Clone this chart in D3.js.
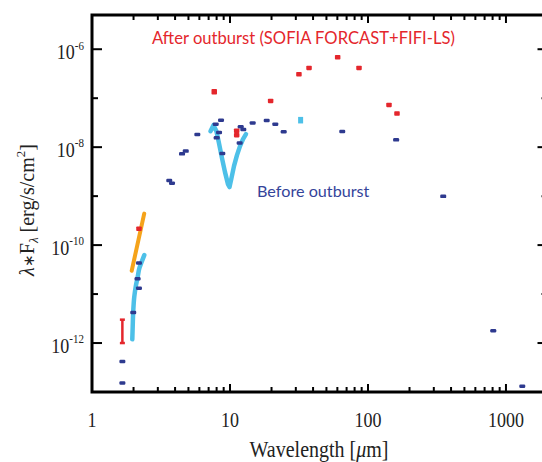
<!DOCTYPE html>
<html>
<head>
<meta charset="utf-8">
<script src="https://cdn.jsdelivr.net/npm/d3@7"></script>
<style>
  html, body { margin: 0; padding: 0; background: #fff; }
  svg { display: block; }
</style>
</head>
<body>
<svg id="chart" width="542" height="462"></svg>
<script>
// ---------- data (wavelength in micron, lambda*F_lambda in erg/s/cm^2) ----------
const blueX = [1.66, 1.66, 1.99, 2.14, 2.19, 2.19, 3.63, 3.80, 4.49, 4.78, 5.80, 7.88, 8.61, 8.33, 8.01, 8.80,
               11.96, 12.49, 11.75, 14.6, 18.45, 21.3, 24.5, 65.1, 160, 351, 809, 1313];
const blueY = [1.53e-13, 4.2e-13, 4.2e-12, 2.05e-11, 1.32e-11, 4.3e-11, 2.09e-9, 1.84e-9, 7.3e-9, 8.3e-9,
               1.82e-8, 2.95e-8, 3.56e-8, 2.0e-8, 1.55e-8, 7.4e-9, 2.6e-8, 2.3e-8, 1.22e-8, 3.13e-8,
               3.5e-8, 2.95e-8, 2.06e-8, 2.09e-8, 1.41e-8, 9.9e-10, 1.78e-12, 1.31e-13];

const redX = [2.19, 7.69, 11.18, 11.18, 19.7, 31.6, 37.4, 60.3, 86.1, 142, 162.3];
const redY = [2.15e-10, 1.39e-7, 2.17e-8, 1.76e-8, 8.8e-8, 3.09e-7, 4.16e-7, 6.87e-7, 4.16e-7, 7.3e-8, 4.87e-8];

const redErrX = [1.66];
const redErrLo = [1.0e-12];
const redErrHi = [3.0e-12];

const orangeX = [1.94, 2.39];
const orangeY = [3.0e-11, 4.4e-10];

const cyanNirX = [1.959, 1.972, 1.992, 2.025, 2.073, 2.144, 2.202, 2.292, 2.393];
const cyanNirY = [1.19e-12, 2.15e-12, 4.7e-12, 8.8e-12, 1.41e-11, 2.25e-11, 3.34e-11, 4.56e-11, 6.25e-11];

const cyanMirX = [7.22, 7.59, 7.98, 8.32, 8.75, 9.20, 9.67, 9.92, 10.25, 10.69, 11.24, 11.82, 12.43, 13.06];
const cyanMirY = [2.12e-8, 2.81e-8, 2.12e-8, 1.21e-8, 5.97e-9, 3.09e-9, 1.76e-9, 1.53e-9, 2.33e-9, 4.1e-9,
                  6.87e-9, 1.05e-8, 1.46e-8, 1.84e-8];

const cyanBoxX = [32.5];
const cyanBoxLo = [3.05e-8];
const cyanBoxHi = [4.15e-8];

const xTickLabels = ["1", "10", "100", "1000"];
const xTickValues = [1, 10, 100, 1000];
const yTickExps = [-6, -8, -10, -12];

const annotAfter = "After outburst (SOFIA FORCAST+FIFI-LS)";
const annotBefore = "Before outburst";

// ---------- layout ----------
const L = 92, R = 547.5, T = 15, B = 392;
const svg = d3.select("#chart");

const x = d3.scaleLog().domain([1, 2000]).range([L, R]);
const y = d3.scaleLog().domain([1e-13, 5e-6]).range([B, T]);

const RED = "#E4262C", BLUE = "#2E3A8F", CYAN = "#4DC0E8", ORANGE = "#F5A31A";
const SERIF = "'Liberation Serif','Times New Roman',serif";
const SANS = "Lato, 'Open Sans', sans-serif";

// ---------- marks ----------
const line = d3.line().x(d => x(d[0])).y(d => y(d[1]));

svg.append("path")
  .datum(orangeX.map((v, i) => [v, orangeY[i]]))
  .attr("d", line).attr("fill", "none").attr("stroke", ORANGE)
  .attr("stroke-width", 4).attr("stroke-linecap", "round");

svg.append("path")
  .datum(cyanNirX.map((v, i) => [v, cyanNirY[i]]))
  .attr("d", d3.line().x(d => x(d[0])).y(d => y(d[1])).curve(d3.curveMonotoneY))
  .attr("fill", "none").attr("stroke", CYAN)
  .attr("stroke-width", 4.5).attr("stroke-linecap", "round");

svg.append("path")
  .datum(cyanMirX.map((v, i) => [v, cyanMirY[i]]))
  .attr("d", line)
  .attr("fill", "none").attr("stroke", CYAN)
  .attr("stroke-width", 4.5).attr("stroke-linecap", "round").attr("stroke-linejoin", "round");

svg.selectAll("rect.cbox").data(cyanBoxX).enter().append("rect")
  .attr("class", "cbox")
  .attr("x", d => x(d) - 2.5).attr("width", 5)
  .attr("y", (d, i) => y(cyanBoxHi[i])).attr("height", (d, i) => y(cyanBoxLo[i]) - y(cyanBoxHi[i]))
  .attr("fill", CYAN);

// red error bar
const eg = svg.selectAll("g.err").data(redErrX).enter().append("g").attr("class", "err")
  .attr("stroke", RED).attr("stroke-width", 2.5);
eg.append("line").attr("x1", d => x(d)).attr("x2", d => x(d))
  .attr("y1", (d, i) => y(redErrLo[i])).attr("y2", (d, i) => y(redErrHi[i]));
eg.append("line").attr("x1", d => x(d) - 2.5).attr("x2", d => x(d) + 2.5)
  .attr("y1", (d, i) => y(redErrLo[i])).attr("y2", (d, i) => y(redErrLo[i]));
eg.append("line").attr("x1", d => x(d) - 2.5).attr("x2", d => x(d) + 2.5)
  .attr("y1", (d, i) => y(redErrHi[i])).attr("y2", (d, i) => y(redErrHi[i]));

svg.selectAll("rect.blue").data(blueX).enter().append("rect")
  .attr("class", "blue")
  .attr("x", d => x(d) - 3).attr("y", (d, i) => y(blueY[i]) - 1.75)
  .attr("width", 6).attr("height", 3.5).attr("rx", 1.2)
  .attr("fill", BLUE);

svg.selectAll("rect.red").data(redX).enter().append("rect")
  .attr("class", "red")
  .attr("x", d => x(d) - 2.75).attr("y", (d, i) => y(redY[i]) - 2.25)
  .attr("width", 5.5).attr("height", (d, i) => i === 1 ? 5.5 : 4.5).attr("rx", 0.8)
  .attr("fill", RED);

// ---------- frame & ticks ----------
const axisG = svg.append("g").attr("stroke", "#000");
axisG.append("rect").attr("x", L).attr("y", T).attr("width", R - L).attr("height", B - T)
  .attr("fill", "none").attr("stroke-width", 3);

const xTicks = [];
for (let dec = 1; dec <= 1000; dec *= 10) {
  for (let m = 1; m <= 9; m++) {
    const v = dec * m;
    if (v <= 1 || v > 2000) continue;
    xTicks.push({ v, major: m === 1 });
  }
}
axisG.selectAll("line.xb").data(xTicks).enter().append("line")
  .attr("x1", d => x(d.v)).attr("x2", d => x(d.v))
  .attr("y1", B).attr("y2", d => B - (d.major ? 8 : 5)).attr("stroke-width", 2);
axisG.selectAll("line.xt").data(xTicks).enter().append("line")
  .attr("x1", d => x(d.v)).attr("x2", d => x(d.v))
  .attr("y1", T).attr("y2", d => T + (d.major ? 8 : 5)).attr("stroke-width", 2);

const yTicks = d3.range(-12, -5).map(e => ({ v: Math.pow(10, e), major: e % 2 === 0 }));
axisG.selectAll("line.yl").data(yTicks).enter().append("line")
  .attr("x1", L).attr("x2", d => L + (d.major ? 10 : 6))
  .attr("y1", d => y(d.v)).attr("y2", d => y(d.v)).attr("stroke-width", 2);
axisG.selectAll("line.yr").data(yTicks).enter().append("line")
  .attr("x1", R).attr("x2", d => R - (d.major ? 10 : 6))
  .attr("y1", d => y(d.v)).attr("y2", d => y(d.v)).attr("stroke-width", 2);

// ---------- tick labels ----------
const SY = 1.15;
svg.selectAll("text.xl").data(xTickValues).enter().append("text")
  .attr("transform", d => `translate(${x(d)},427) scale(1,${SY})`)
  .attr("text-anchor", "middle").attr("font-family", SERIF).attr("font-size", 18)
  .attr("fill", "#222").text((d, i) => xTickLabels[i]);

const yl = svg.selectAll("text.yl").data(yTickExps).enter().append("text")
  .attr("transform", d => `translate(84,${y(Math.pow(10, d)) + 9.5}) scale(1,${SY})`)
  .attr("text-anchor", "end").attr("font-family", SERIF).attr("font-size", 18).attr("fill", "#222");
yl.append("tspan").text("10");
yl.append("tspan").attr("dy", -8).attr("font-size", 11).text(d => "-" + Math.abs(d));

// ---------- axis titles ----------
svg.append("text")
  .attr("transform", `translate(${(L + 546) / 2},457) scale(1,1.12)`)
  .attr("text-anchor", "middle").attr("font-family", SERIF).attr("font-size", 20).attr("fill", "#222")
  .call(t => {
    t.append("tspan").text("Wavelength [");
    t.append("tspan").attr("font-style", "italic").text("\u03BC");
    t.append("tspan").text("m]");
  });

svg.append("text")
  .attr("transform", `translate(34,210) rotate(-90)`)
  .attr("text-anchor", "middle").attr("font-family", SERIF).attr("font-size", 20).attr("fill", "#222")
  .call(t => {
    t.append("tspan").attr("font-style", "italic").text("\u03BB");
    t.append("tspan").attr("font-size", 15).text("\u2217");
    t.append("tspan").text("F");
    t.append("tspan").attr("font-size", 13).attr("font-style", "italic").attr("dy", 4).text("\u03BB");
    t.append("tspan").attr("dy", -4).text(" [erg/s/cm");
    t.append("tspan").attr("font-size", 13).attr("dy", -9).text("2");
    t.append("tspan").attr("dy", 9).text("]");
  });

// ---------- annotations ----------
svg.append("text").attr("x", 152).attr("y", 44)
  .attr("font-family", SANS).attr("font-size", 16.6).attr("fill", RED).text(annotAfter);
svg.append("text").attr("x", 257).attr("y", 196.5)
  .attr("font-family", SANS).attr("font-size", 16.2).attr("fill", "#34449A").text(annotBefore);
</script>
</body>
</html>
